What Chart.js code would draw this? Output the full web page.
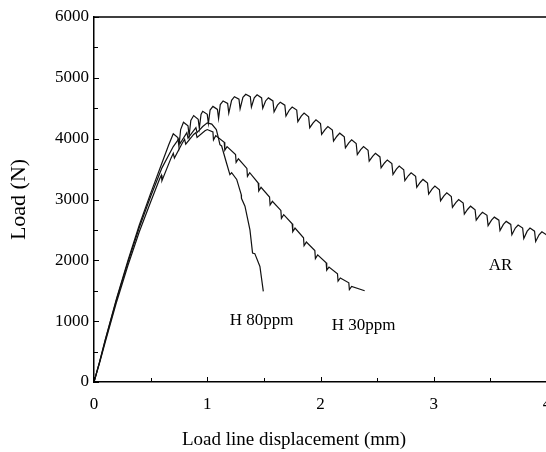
<!DOCTYPE html>
<html>
<head>
<meta charset="utf-8">
<script src="https://cdn.jsdelivr.net/npm/chart.js@4.4.1/dist/chart.umd.min.js"></script>
<style>
  html, body { margin: 0; padding: 0; background: #fff; overflow: hidden; }
  #wrap { position: absolute; left: 0; top: 0; width: 564px; height: 452px; }
</style>
</head>
<body>
<div id="wrap"><canvas id="loadChart"></canvas></div>
<script>
// load line displacement (mm) / load (N)
const arX = [
  0, 0.05, 0.1, 0.2, 0.3, 0.4, 0.5, 0.6, 0.66,
  0.7, 0.74, 0.75,
  0.765, 0.79, 0.83, 0.84,
  0.855, 0.88, 0.92, 0.93,
  0.945, 0.96, 1.0, 1.01,
  1.025, 1.05, 1.09, 1.10,
  1.115, 1.14, 1.18, 1.19,
  1.215, 1.24, 1.28, 1.29,
  1.315, 1.34, 1.38, 1.39,
  1.415, 1.44, 1.48, 1.49,
  1.515, 1.54, 1.58, 1.59,
  1.62, 1.645, 1.685, 1.695,
  1.725, 1.75, 1.79, 1.80,
  1.83, 1.855, 1.895, 1.905,
  1.935, 1.96, 2.0, 2.01,
  2.04, 2.065, 2.105, 2.115,
  2.145, 2.17, 2.21, 2.22,
  2.25, 2.275, 2.315, 2.325,
  2.355, 2.38, 2.42, 2.43,
  2.46, 2.485, 2.525, 2.535,
  2.565, 2.59, 2.63, 2.64,
  2.67, 2.695, 2.735, 2.745,
  2.775, 2.8, 2.84, 2.85,
  2.88, 2.905, 2.945, 2.955,
  2.985, 3.01, 3.05, 3.06,
  3.09, 3.115, 3.155, 3.165,
  3.195, 3.22, 3.26, 3.27,
  3.30, 3.325, 3.365, 3.375,
  3.405, 3.43, 3.47, 3.48,
  3.51, 3.535, 3.575, 3.585,
  3.615, 3.64, 3.68, 3.69,
  3.72, 3.745, 3.785, 3.795,
  3.825, 3.85, 3.89, 3.90,
  3.93, 3.955, 3.995, 4.005
];
const arY = [
  0, 340, 700, 1380, 2000, 2580, 3100, 3600, 3900,
  4080, 4020, 3870,
  4150, 4270, 4210, 4050,
  4300, 4380, 4320, 4170,
  4400, 4450, 4400, 4250,
  4470, 4530, 4480, 4330,
  4560, 4620, 4580, 4420,
  4630, 4690, 4650, 4490,
  4680, 4730, 4690, 4520,
  4670, 4720, 4670, 4500,
  4620, 4670, 4620, 4440,
  4550, 4600, 4550, 4370,
  4470, 4520, 4470, 4280,
  4370, 4420, 4360, 4180,
  4260, 4310, 4250, 4070,
  4150, 4200, 4140, 3960,
  4040, 4090, 4030, 3850,
  3930, 3980, 3920, 3740,
  3820, 3870, 3810, 3630,
  3710, 3760, 3700, 3520,
  3600, 3650, 3590, 3410,
  3500, 3550, 3490, 3310,
  3390, 3440, 3380, 3200,
  3280, 3330, 3270, 3090,
  3170, 3220, 3160, 2980,
  3060, 3110, 3050, 2870,
  2950, 3000, 2940, 2760,
  2840, 2890, 2830, 2660,
  2740, 2790, 2740, 2570,
  2660, 2710, 2660, 2490,
  2590, 2640, 2590, 2420,
  2530, 2580, 2530, 2360,
  2480, 2530, 2480, 2310,
  2420, 2470, 2420, 2270
];

const h30X = [
  0, 0.05, 0.1, 0.2, 0.3, 0.4, 0.5, 0.58, 0.595, 0.6, 0.68, 0.7, 0.71,
  0.78, 0.8, 0.81, 0.88, 0.9, 0.91, 0.98, 1.0,
  1.05, 1.055, 1.075,
  1.15, 1.155, 1.175,
  1.25, 1.255, 1.275,
  1.35, 1.355, 1.375,
  1.45, 1.455, 1.475,
  1.55, 1.555, 1.575,
  1.65, 1.655, 1.675,
  1.75, 1.755, 1.775,
  1.85, 1.855, 1.875,
  1.95, 1.955, 1.975,
  2.05, 2.055, 2.075,
  2.15, 2.155, 2.175,
  2.25, 2.255, 2.275,
  2.39
];
const h30Y = [
  0, 320, 660, 1320, 1920, 2470, 2960, 3340, 3400, 3310, 3680, 3760, 3680,
  3930, 3990, 3910, 4070, 4100, 4020, 4130, 4150,
  4110, 3980, 4050,
  3940, 3810, 3870,
  3740, 3610, 3670,
  3510, 3380, 3440,
  3270, 3140, 3200,
  3040, 2910, 2970,
  2820, 2690, 2750,
  2600, 2470, 2530,
  2370, 2240, 2300,
  2160, 2030, 2090,
  1960, 1840, 1890,
  1780, 1660, 1710,
  1630, 1520, 1570,
  1500
];

const h80X = [
  0, 0.05, 0.1, 0.2, 0.3, 0.4, 0.5, 0.6, 0.7, 0.75, 0.76, 0.82, 0.83,
  0.9, 0.91, 0.96, 1.0, 1.04, 1.08, 1.1, 1.112, 1.127, 1.17, 1.2, 1.215,
  1.26, 1.3, 1.302, 1.333, 1.377, 1.40, 1.42, 1.465, 1.495
];
const h80Y = [
  0, 330, 690, 1360, 1970, 2540, 3050, 3520, 3870, 4000, 3920, 4100, 4010,
  4180, 4100, 4200, 4260, 4240, 4150, 4000, 3900, 3880, 3600, 3410, 3440,
  3330, 3080, 3020, 2890, 2500, 2120, 2110, 1900, 1490
];

const curveNames = ['AR', 'H 30ppm', 'H 80ppm'];
// where each curve name is written (data units)
const labelAt = [[3.59, 1920], [2.38, 930], [1.48, 1010]];

const serif = "'Liberation Serif', 'Times New Roman', serif";

function toPoints(xs, ys) {
  return xs.map((x, i) => ({ x: x, y: ys[i] }));
}

function curve(name, xs, ys) {
  return {
    label: name,
    data: toPoints(xs, ys),
    showLine: true,
    borderColor: '#111',
    borderWidth: 1.2,
    pointRadius: 0,
    tension: 0,
    fill: false
  };
}

const frameAndTicks = {
  id: 'frameAndTicks',
  afterDraw(chart) {
    const { ctx, chartArea: a, scales: { x, y } } = chart;
    ctx.save();
    ctx.strokeStyle = '#000';
    ctx.lineWidth = 1;
    ctx.beginPath();
    x.ticks.forEach(t => {
      const px = Math.round(x.getPixelForValue(t.value)) + 0.5;
      ctx.moveTo(px, a.bottom);
      ctx.lineTo(px, a.bottom - (Number.isInteger(t.value) ? 5 : 4));
    });
    y.ticks.forEach(t => {
      const py = Math.round(y.getPixelForValue(t.value)) + 0.5;
      ctx.moveTo(a.left, py);
      ctx.lineTo(a.left + (t.value % 1000 === 0 ? 5 : 4), py);
    });
    ctx.stroke();
    ctx.lineWidth = 1.5;
    ctx.beginPath();
    ctx.moveTo(a.left, a.top);
    ctx.lineTo(a.right, a.top);
    ctx.lineTo(a.right, a.bottom);
    ctx.stroke();

    ctx.fillStyle = '#000';
    ctx.font = '17px ' + serif;
    ctx.textAlign = 'center';
    ctx.textBaseline = 'middle';
    curveNames.forEach((name, i) => {
      ctx.fillText(name, x.getPixelForValue(labelAt[i][0]), y.getPixelForValue(labelAt[i][1]));
    });

    // x axis title sits left of the plot centre in the original figure
    ctx.font = '19px ' + serif;
    ctx.fillText('Load line displacement (mm)', 294, 440);
    ctx.restore();
  }
};

new Chart(document.getElementById('loadChart'), {
  type: 'scatter',
  data: {
    datasets: [
      curve(curveNames[0], arX, arY),
      curve(curveNames[1], h30X, h30Y),
      curve(curveNames[2], h80X, h80Y)
    ]
  },
  options: {
    responsive: true,
    maintainAspectRatio: false,
    animation: false,
    layout: { padding: { top: 17, right: 17, left: 0, bottom: 0 } },
    plugins: {
      legend: { display: false },
      tooltip: { enabled: false }
    },
    scales: {
      x: {
        type: 'linear',
        min: 0,
        max: 4,
        afterFit(scale) { scale.height = 70; },
        grid: { display: false, drawTicks: false },
        border: { display: true, color: '#000', width: 1.5 },
        ticks: {
          stepSize: 0.5,
          padding: 12,
          color: '#000',
          font: { family: serif, size: 17 },
          maxRotation: 0,
          callback: v => Number.isInteger(v) ? v : ''
        },
        title: { display: false }
      },
      y: {
        type: 'linear',
        min: 0,
        max: 6000,
        afterFit(scale) { scale.width = 94; },
        grid: { display: false, drawTicks: false },
        border: { display: true, color: '#000', width: 1.5 },
        ticks: {
          stepSize: 500,
          padding: 5,
          color: '#000',
          font: { family: serif, size: 17 },
          callback: v => v % 1000 === 0 ? v : ''
        },
        title: {
          display: true,
          text: 'Load (N)',
          color: '#000',
          font: { family: serif, size: 22 },
          padding: { top: 6, bottom: 0 }
        }
      }
    }
  },
  plugins: [frameAndTicks]
});
</script>
</body>
</html>
